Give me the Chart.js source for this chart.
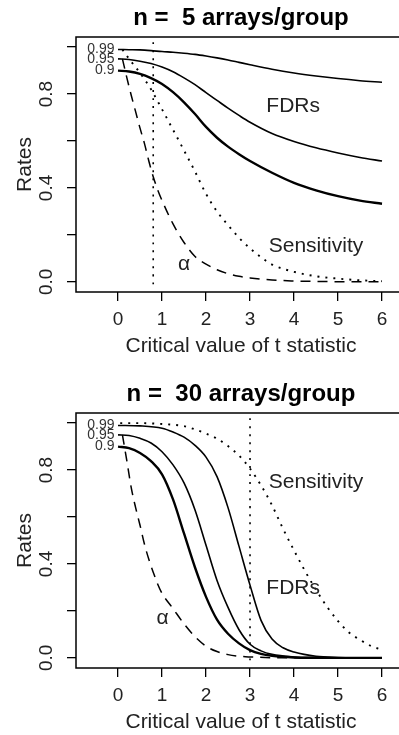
<!DOCTYPE html>
<html>
<head>
<meta charset="utf-8">
<script src="https://cdn.jsdelivr.net/npm/chart.js@4.4.1/dist/chart.umd.min.js"></script>
<style>
  html, body { margin: 0; padding: 0; background: #fff; overflow: hidden; }
  #wrap { position: relative; width: 399px; height: 735px; overflow: hidden; }
  #wrap canvas { position: absolute; left: 0; }
</style>
</head>
<body>
<div id="wrap">
  <canvas id="panel5" width="406" height="359" style="top:0px"></canvas>
  <canvas id="panel30" width="406" height="359" style="top:376px"></canvas>
</div>
<script>
// ---- n = 5 arrays/group ----
const xFdr5 = [0, 0.25, 0.5, 0.75, 1, 1.25, 1.5, 1.75, 2, 2.25, 2.5, 2.75, 3, 3.5, 4, 4.5, 5, 5.5, 6];
const fdr99_5 = [0.99, 0.989, 0.988, 0.985, 0.981, 0.978, 0.974, 0.969, 0.962, 0.954, 0.945, 0.935, 0.925, 0.906, 0.89, 0.877, 0.866, 0.857, 0.85];
const fdr95_5 = [0.95, 0.947, 0.94, 0.93, 0.915, 0.895, 0.869, 0.84, 0.806, 0.773, 0.74, 0.709, 0.68, 0.632, 0.598, 0.571, 0.549, 0.53, 0.515];
const fdr90_5 = [0.9, 0.896, 0.886, 0.868, 0.843, 0.808, 0.765, 0.715, 0.66, 0.614, 0.576, 0.544, 0.515, 0.465, 0.422, 0.39, 0.365, 0.346, 0.333];
const xAlpha5 = [0.1, 0.2, 0.3, 0.4, 0.5, 0.6, 0.7, 0.8, 0.9, 1, 1.25, 1.5, 1.75, 2, 2.25, 2.5, 2.75, 3, 3.5, 4, 4.5, 5, 5.5, 6];
const alpha5 = [0.95, 0.87, 0.795, 0.725, 0.655, 0.59, 0.515, 0.448, 0.393, 0.347, 0.247, 0.168, 0.108, 0.076, 0.052, 0.035, 0.024, 0.017, 0.008, 0.004, 0.002, 0.001, 0.0005, 0.0003];
const xSens5 = [0.1, 0.25, 0.5, 0.75, 1, 1.25, 1.5, 1.75, 2, 2.25, 2.5, 2.75, 3, 3.25, 3.5, 4, 4.5, 5, 5.5, 6];
const sens5 = [0.99, 0.95, 0.89, 0.82, 0.735, 0.648, 0.56, 0.47, 0.375, 0.3, 0.242, 0.188, 0.143, 0.105, 0.074, 0.043, 0.024, 0.014, 0.007, 0.003];
const cutoff5 = [0.8];

// ---- n = 30 arrays/group ----
const xFdr99_30 = [0, 0.5, 1, 1.25, 1.5, 1.75, 2, 2.25, 2.5, 2.75, 3, 3.25, 3.5, 3.75, 4, 4.5, 5, 5.5, 6];
const fdr99_30 = [0.99, 0.988, 0.978, 0.962, 0.94, 0.905, 0.855, 0.772, 0.64, 0.475, 0.31, 0.16, 0.08, 0.043, 0.025, 0.007, 0.002, 0.0005, 0.0001];
const xFdr_30 = [0, 0.25, 0.5, 0.75, 1, 1.25, 1.5, 1.75, 2, 2.25, 2.5, 2.75, 3, 3.25, 3.5, 4, 4.5, 5, 6];
const fdr95_30 = [0.95, 0.947, 0.935, 0.915, 0.878, 0.822, 0.745, 0.63, 0.48, 0.33, 0.215, 0.12, 0.058, 0.03, 0.015, 0.004, 0.001, 0.0003, 0];
const fdr90_30 = [0.9, 0.893, 0.873, 0.838, 0.782, 0.675, 0.53, 0.385, 0.26, 0.163, 0.103, 0.062, 0.033, 0.017, 0.009, 0.002, 0.0005, 0.0001, 0];
const xAlpha30 = [0.1, 0.2, 0.3, 0.4, 0.5, 0.6, 0.7, 0.8, 0.9, 1, 1.25, 1.5, 1.75, 2, 2.25, 2.5, 2.75, 3, 3.5, 4, 5, 6];
const alpha30 = [0.95, 0.84, 0.725, 0.64, 0.565, 0.485, 0.42, 0.365, 0.315, 0.275, 0.21, 0.145, 0.09, 0.05, 0.027, 0.014, 0.007, 0.004, 0.001, 0.0003, 0, 0];
const xSens30 = [0.05, 0.5, 1, 1.5, 1.75, 2, 2.25, 2.5, 2.75, 3, 3.25, 3.5, 3.75, 4, 4.25, 4.5, 4.75, 5, 5.25, 5.5, 5.75, 6];
const sens30 = [1.0, 1.0, 0.996, 0.987, 0.973, 0.955, 0.934, 0.902, 0.862, 0.806, 0.735, 0.65, 0.55, 0.458, 0.37, 0.29, 0.218, 0.157, 0.108, 0.077, 0.051, 0.034];
const cutoff30 = [3.0];

// axis ticks
const xTicks = [0, 1, 2, 3, 4, 5, 6];
const yTicks = [0, 0.2, 0.4, 0.6, 0.8, 1.0];
const yLabelled = [0, 0.4, 0.8];
const fdrLevels = ['0.99', '0.95', '0.9'];

const FONT = "'Liberation Sans', Arial, Helvetica, sans-serif";

function pts(xs, ys) {
    return xs.map((x, i) => ({ x: x, y: ys[i] }));
}

function line(data, width, dash) {
    return {
        data: data,
        borderColor: '#000',
        borderWidth: width,
        borderDash: dash || [],
        borderCapStyle: 'butt',
        pointRadius: 0,
        fill: false,
        cubicInterpolationMode: 'monotone',
    };
}

// box around the plot region
const framePlugin = {
    id: 'frame',
    afterDraw(chart) {
        const { ctx, chartArea: a } = chart;
        ctx.save();
        ctx.strokeStyle = '#000';
        ctx.lineWidth = 1.5;
        ctx.strokeRect(a.left, a.top, a.right - a.left, a.bottom - a.top);
        ctx.restore();
    },
};

function notesPlugin(notes) {
    return {
        id: 'notes',
        afterDatasetsDraw(chart) {
            const { ctx, scales } = chart;
            ctx.save();
            ctx.textBaseline = 'middle';
            notes.forEach((n) => {
                ctx.font = n.font;
                ctx.fillStyle = n.color;
                ctx.textAlign = n.align;
                ctx.fillText(n.text, scales.x.getPixelForValue(n.x), scales.y.getPixelForValue(n.y));
            });
            ctx.restore();
        },
    };
}

function makePanel(id, title, sets, cutoff, notes) {
    const datasets = [
        line(pts(sets[0][0], sets[0][1]), 1.6),
        line(pts(sets[1][0], sets[1][1]), 1.6),
        line(pts(sets[2][0], sets[2][1]), 2.4),
        line(pts(sets[3][0], sets[3][1]), 1.5, [10, 7]),
        line(pts(sets[4][0], sets[4][1]), 1.9, [2, 6]),
        line([{ x: cutoff[0], y: -0.01 }, { x: cutoff[0], y: 1.03 }], 1.6, [2, 6]),
    ];
    const levelNotes = fdrLevels.map((t, i) => ({
        text: t, x: -0.08, y: sets[i][1][0], align: 'right', font: '14px ' + FONT, color: '#333',
    }));

    new Chart(document.getElementById(id), {
        type: 'line',
        data: { datasets: datasets },
        options: {
            responsive: false,
            animation: false,
            devicePixelRatio: 1,
            layout: { padding: 0 },
            plugins: {
                legend: { display: false },
                tooltip: { enabled: false },
                title: {
                    display: true,
                    text: title,
                    fullSize: false,
                    color: '#000',
                    font: { family: FONT, size: 24, weight: 'bold', lineHeight: 1.2 },
                    padding: { top: 4, bottom: 4.2 },
                },
            },
            scales: {
                x: {
                    type: 'linear',
                    min: -0.955,
                    max: 6.545,
                    afterBuildTicks: (s) => { s.ticks = xTicks.map((v) => ({ value: v })); },
                    afterFit: (s) => { s.height = 67; },
                    grid: { drawOnChartArea: false, drawTicks: true, tickLength: 9, tickColor: '#000', lineWidth: 1.3 },
                    border: { display: false },
                    ticks: {
                        color: '#222',
                        font: { family: FONT, size: 19 },
                        padding: 7,
                        maxRotation: 0,
                        callback: (v) => String(v),
                    },
                    title: {
                        display: true,
                        text: 'Critical value of t statistic',
                        color: '#222',
                        font: { family: FONT, size: 21 },
                        padding: { top: 0, bottom: 0 },
                    },
                },
                y: {
                    type: 'linear',
                    min: -0.043,
                    max: 1.043,
                    afterBuildTicks: (s) => { s.ticks = yTicks.map((v) => ({ value: v })); },
                    afterFit: (s) => { s.width = 76; },
                    grid: { drawOnChartArea: false, drawTicks: true, tickLength: 9, tickColor: '#000', lineWidth: 1.3 },
                    border: { display: false },
                    ticks: {
                        color: '#222',
                        font: { family: FONT, size: 19 },
                        padding: 7,
                        minRotation: 90,
                        maxRotation: 90,
                        crossAlign: 'center',
                        callback: (v) => (yLabelled.some((l) => Math.abs(l - v) < 1e-9) ? v.toFixed(1) : ''),
                    },
                    title: {
                        display: true,
                        text: 'Rates',
                        color: '#222',
                        font: { family: FONT, size: 21 },
                        padding: { top: 13, bottom: 0 },
                    },
                },
            },
        },
        plugins: [framePlugin, notesPlugin(levelNotes.concat(notes))],
    });
}

const big = '21px ' + FONT;

makePanel('panel5', 'n =  5 arrays/group',
    [[xFdr5, fdr99_5], [xFdr5, fdr95_5], [xFdr5, fdr90_5], [xAlpha5, alpha5], [xSens5, sens5]],
    cutoff5,
    [
        { text: 'FDRs', x: 3.98, y: 0.75, align: 'center', font: big, color: '#222' },
        { text: 'Sensitivity', x: 4.5, y: 0.153, align: 'center', font: big, color: '#222' },
        { text: 'α', x: 1.5, y: 0.074, align: 'center', font: big, color: '#222' },
    ]);

makePanel('panel30', 'n =  30 arrays/group',
    [[xFdr99_30, fdr99_30], [xFdr_30, fdr95_30], [xFdr_30, fdr90_30], [xAlpha30, alpha30], [xSens30, sens30]],
    cutoff30,
    [
        { text: 'Sensitivity', x: 4.5, y: 0.749, align: 'center', font: big, color: '#222' },
        { text: 'FDRs', x: 3.98, y: 0.297, align: 'center', font: big, color: '#222' },
        { text: 'α', x: 1.01, y: 0.17, align: 'center', font: big, color: '#222' },
    ]);
</script>
</body>
</html>
